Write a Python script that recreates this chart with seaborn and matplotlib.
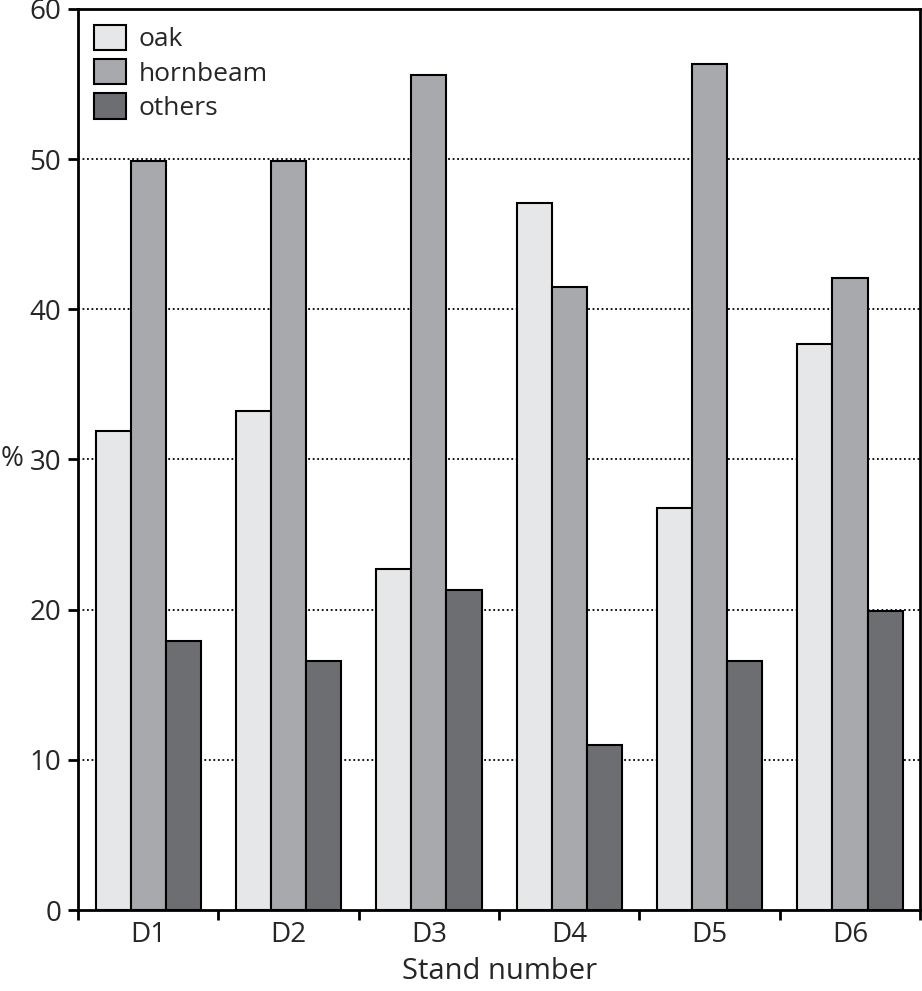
import matplotlib
matplotlib.use("Agg")
import matplotlib.pyplot as plt
import seaborn as sns
import pandas as pd

# dados
stands = ["D1", "D2", "D3", "D4", "D5", "D6"]
oak = [31.9, 33.2, 22.7, 47.1, 26.8, 37.7]
hornbeam = [49.9, 49.9, 55.6, 41.5, 56.3, 42.1]
others = [17.9, 16.6, 21.3, 11.0, 16.6, 19.9]
species = ["oak", "hornbeam", "others"]
cores = ["#e6e7e8", "#a7a9ac", "#6d6e71"]

dados = pd.DataFrame({"stand": stands, "oak": oak, "hornbeam": hornbeam, "others": others})
dados = dados.melt(id_vars="stand", var_name="species", value_name="pct")

sns.set_style("white")
plt.rcParams["font.family"] = ["Open Sans", "DejaVu Sans"]

fig = plt.figure(figsize=(9.22, 9.91), dpi=100)
ax = fig.add_axes([0.0846, 0.0817, 0.9134, 0.9093])

sns.barplot(data=dados, x="stand", y="pct", hue="species", hue_order=species,
            palette=cores, width=0.75, edgecolor="black", linewidth=1.5,
            saturation=1, ax=ax, zorder=3)

ax.set_ylim(0, 60)
ax.set_xlim(-0.5, 5.5)
ax.set_yticks(range(0, 61, 10))
for y in range(10, 60, 10):
    ax.axhline(y, color="black", linestyle=(0, (1, 1.5)), linewidth=1.3, zorder=1)

for s in ax.spines.values():
    s.set_linewidth(2)
    s.set_color("black")

ax.set_xticks([i - 0.5 for i in range(7)], minor=True)
ax.tick_params(axis="x", which="major", length=0, labelsize=20, pad=8)
ax.tick_params(axis="x", which="minor", length=7, width=2, direction="out", color="black")
ax.tick_params(axis="y", length=7, width=2, direction="out", labelsize=20, pad=5, color="black")
ax.xaxis.set_tick_params(bottom=True, which="both")
ax.yaxis.set_tick_params(left=True)

ax.set_xlabel("Stand number", fontsize=21, labelpad=6)
ax.set_ylabel("%", fontsize=20, rotation=0, va="center", ha="left")
ax.yaxis.set_label_coords(-0.092, 0.5)

ax.legend(loc="upper left", frameon=False, fontsize=19, handlelength=1.2,
          handleheight=1.1, handletextpad=0.5, labelspacing=0.25,
          borderaxespad=0.2, bbox_to_anchor=(0.0, 1.0))
leg = ax.get_legend()
for h in leg.legend_handles:
    h.set_edgecolor("black")
    h.set_linewidth(1.5)

fig.savefig("out.png", dpi=100)
